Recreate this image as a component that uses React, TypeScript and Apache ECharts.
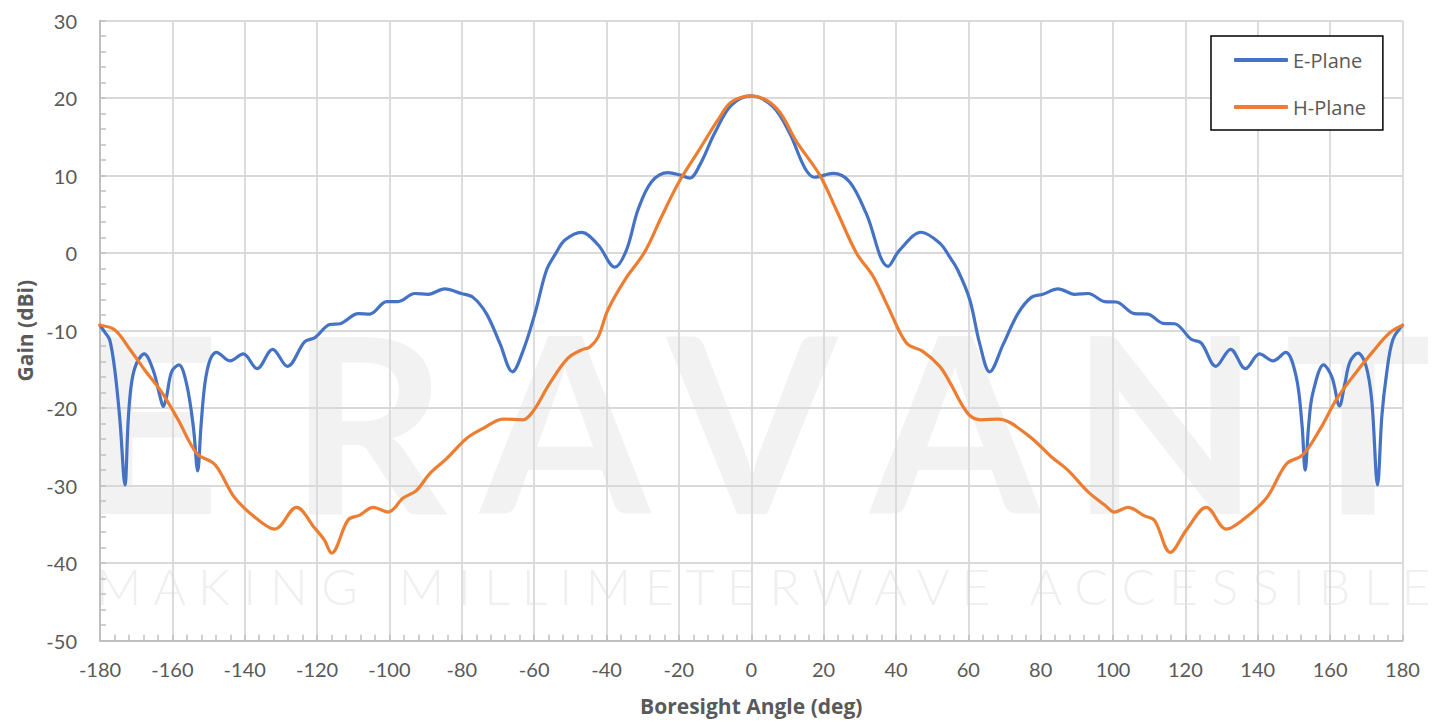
import React, { useEffect, useRef } from "react";
import * as echarts from "echarts";

// Boresight angle (deg) and gain (dBi)
const eAngles = [
  -180, -178.5, -177.3, -175.9, -174.5, -173.1, -172.2, -171.3, -169.9, -167.8,
  -165.3, -163.4, -162.5, -161.6, -160.2, -158.2, -156.1, -154.2, -153.0, -152.1,
  -151.0, -149.6, -147.8, -144.1, -140.4, -136.6, -132.3, -128.2, -123.4, -120.6,
  -116.5, -113.7, -108.6, -105.4, -100.8, -97.6, -93, -89.3, -84.7, -80.1,
  -76.9, -73.2, -69.5, -66.0, -63, -59.8, -56.6, -54, -51.5, -46.9,
  -42.3, -37.7, -34.5, -31.3, -27.6, -23, -19.8, -17, -14.2, -10.1,
  -5.5, 0, 6, 10.6, 14.8, 17.5, 22.6, 27.2, 31.8, 37.8,
  41, 47, 52.1, 54.8, 57.1, 60.4, 63.1, 65.9, 69.6, 73.7,
  77.4, 80.6, 84.8, 89.4, 93.1, 97.7, 100.9, 106, 109.6, 113.8,
  117, 121.6, 124.4, 128.4, 132.5, 136.6, 140.5, 144.2, 147.7, 150.6,
  152.2, 153.1, 154.1, 155.2, 158.2, 160.5, 162.6, 164, 165.5, 167.7,
  169.9, 171.5, 173.1, 174.3, 175.5, 177.3, 180,
];
const eGain = [
  -9.3, -10.3, -11.2, -15.1, -21.5, -29.9, -21.5, -16.8, -14.2, -13.0,
  -15.1, -18.5, -19.8, -18.5, -15.3, -14.4, -16.8, -22.4, -28.1, -22.4,
  -16.8, -13.8, -12.8, -13.9, -13.0, -14.9, -12.4, -14.6, -11.4, -10.9,
  -9.2, -9.1, -7.8, -7.85, -6.25, -6.25, -5.2, -5.3, -4.6, -5.2,
  -5.7, -7.8, -11.6, -15.3, -12.5, -7.8, -2.2, 0, 1.7, 2.7,
  1.06, -1.8, 0.4, 5.6, 9.2, 10.4, 10.1, 9.7, 11.4, 15.5,
  19.1, 20.3, 18.9, 15.5, 11, 9.8, 10.3, 9.2, 5.1, -1.7,
  0.4, 2.7, 1.3, -0.45, -2.2, -6.0, -11.6, -15.3, -11.8, -7.8,
  -5.7, -5.3, -4.6, -5.3, -5.2, -6.25, -6.3, -7.8, -7.85, -9.05,
  -9.1, -11.1, -11.6, -14.6, -12.4, -14.9, -13.0, -13.9, -12.8, -15.9,
  -22, -28.0, -22, -18.1, -14.4, -16, -19.7, -17, -14, -12.9,
  -14.5, -19, -29.9, -21, -15.9, -11.2, -9.3,
];

const hAngles = [
  -180, -175.9, -172.2, -167.6, -163, -158.4, -153.3, -148.2, -142.7, -136.3,
  -131.7, -125.7, -120.6, -118, -116.0, -111.4, -108.2, -104.5, -100.4, -96.2,
  -92.5, -88.8, -84.2, -78.7, -74.1, -68.6, -63.1, -60.3, -55.7, -50.8,
  -47, -44.6, -42.3, -39.6, -35, -29.4, -24.8, -20.2, -14.7, -9.2,
  -5.5, 0, 7, 12.5, 18.9, 23.5, 29.1, 33.7, 37.8, 42.9,
  47.5, 52.1, 54.8, 59.9, 63.6, 68.2, 76.5, 83, 87.5, 93.1,
  97.7, 100.4, 104.1, 108.7, 111.5, 115.8, 120.3, 125.8, 131.3, 135.9,
  142.4, 147.9, 152.5, 157.1, 161.7, 166.3, 171.8, 176.4, 180,
];
const hGain = [
  -9.3, -9.9, -12.1, -15.1, -17.9, -21.5, -25.8, -27.3, -31.6, -34.4,
  -35.6, -32.8, -35.5, -37, -38.7, -34.4, -33.8, -32.8, -33.4, -31.6,
  -30.6, -28.4, -26.5, -23.9, -22.6, -21.4, -21.5, -20.4, -16.8, -13.6,
  -12.5, -12.1, -10.8, -7.3, -3.5, 0.2, 4.7, 9.0, 13.1, 17.2,
  19.5, 20.3, 18.7, 14.4, 10.1, 5.6, 0, -3.0, -6.9, -11.6,
  -12.7, -14.6, -16.6, -20.7, -21.5, -21.4, -23.5, -26.3, -28, -30.8,
  -32.5, -33.4, -32.8, -33.9, -34.5, -38.6, -35.7, -32.8, -35.6, -34.4,
  -31.6, -27.2, -26.0, -22.8, -18.9, -15.9, -12.7, -10.3, -9.3,
];

const seriesNames = ["E-Plane", "H-Plane"];
const xTitle = "Boresight Angle (deg)";
const yTitle = "Gain (dBi)";
const watermarkBig = ["E", "R", "A", "V", "A", "N", "T"];
const watermarkBigX = [150, 368, 565, 752, 955, 1165, 1358];
const watermarkSmall = "M A K I N G   M I L L I M E T E R W A V E   A C C E S S I B L E";

const FONT = "Lato, 'Open Sans', sans-serif";
const TITLE_FONT = "'Open Sans', Lato, sans-serif";
const TXT = "#595959";

export default function App() {
  const ref = useRef<HTMLDivElement>(null);
  useEffect(() => {
    if (!ref.current) return;
    const chart = echarts.init(ref.current, undefined, { renderer: "svg" });
    const eData = eAngles.map((a, i) => [a, eGain[i]]);
    const hData = hAngles.map((a, i) => [a, hGain[i]]);

    const graphics: any[] = [];
    watermarkBig.forEach((ch, i) => {
      graphics.push({
        type: "text",
        x: watermarkBigX[i],
        y: 419,
        z: -10,
        silent: true,
        style: {
          text: ch,
          fill: "#f2f2f2",
          font: `bold 245px ${FONT}`,
          align: "center",
          verticalAlign: "middle",
        },
      });
    });
    graphics.push({
      type: "text",
      x: 96,
      y: 586,
      z: -10,
      silent: true,
      style: {
        text: watermarkSmall,
        fill: "#efefef",
        font: `300 50px ${FONT}`,
        align: "left",
        verticalAlign: "middle",
      },
    });

    chart.setOption({
      animation: false,
      backgroundColor: "#ffffff",
      textStyle: { fontFamily: FONT },
      graphic: graphics,
      grid: { left: 100, right: 36.5, top: 20.7, bottom: 82.3, containLabel: false },
      legend: {
        orient: "vertical",
        left: 1211,
        top: 36,
        padding: [12, 17, 11, 23],
        itemGap: 23,
        itemWidth: 54,
        itemHeight: 4,
        icon: "roundRect",
        borderColor: "#000000",
        borderWidth: 1.5,
        backgroundColor: "#ffffff",
        textStyle: { color: TXT, fontSize: 20, fontFamily: TITLE_FONT, lineHeight: 24 },
        data: seriesNames,
      },
      xAxis: {
        type: "value",
        min: -180,
        max: 180,
        interval: 20,
        name: xTitle,
        nameLocation: "middle",
        nameGap: 55,
        nameTextStyle: { color: TXT, fontSize: 21, fontWeight: "bold", fontFamily: TITLE_FONT },
        axisLine: { show: true, onZero: false, lineStyle: { color: "#bfbfbf", width: 2 } },
        axisTick: { show: true, inside: true, length: 6, lineStyle: { color: "#bfbfbf", width: 1.5 } },
        minorTick: { show: true, splitNumber: 5, length: 6, lineStyle: { color: "#bfbfbf", width: 1.5 } },
        splitLine: { show: true, lineStyle: { color: "#d9d9d9", width: 1.8 } },
        axisLabel: { color: TXT, fontSize: 20, margin: 18, fontFamily: FONT },
      },
      yAxis: {
        type: "value",
        min: -50,
        max: 30,
        interval: 10,
        name: yTitle,
        nameLocation: "middle",
        nameGap: 64,
        nameRotate: 90,
        nameTextStyle: { color: TXT, fontSize: 21, fontWeight: "bold", fontFamily: TITLE_FONT },
        axisLine: { show: true, onZero: false, lineStyle: { color: "#bfbfbf", width: 2 } },
        axisTick: { show: true, inside: true, length: 6, lineStyle: { color: "#bfbfbf", width: 1.5 } },
        minorTick: { show: true, splitNumber: 5, length: 6, lineStyle: { color: "#bfbfbf", width: 1.5 } },
        splitLine: { show: true, lineStyle: { color: "#d9d9d9", width: 1.8 } },
        axisLabel: { color: TXT, fontSize: 20, margin: 23, fontFamily: FONT },
      },
      series: [
        {
          name: seriesNames[0],
          type: "line",
          data: eData,
          symbol: "none",
          showSymbol: false,
          smooth: 0.35,
          color: "#4472C4",
          lineStyle: { color: "#4472C4", width: 3.2, cap: "round", join: "round" },
          z: 3,
        },
        {
          name: seriesNames[1],
          type: "line",
          data: hData,
          symbol: "none",
          showSymbol: false,
          smooth: 0.35,
          color: "#ED7D31",
          lineStyle: { color: "#ED7D31", width: 3.2, cap: "round", join: "round" },
          z: 4,
        },
      ],
    });
    return () => chart.dispose();
  }, []);
  return (
    <div
      ref={ref}
      style={{ position: "fixed", left: 0, top: 0, width: 1439, height: 723 }}
    />
  );
}
